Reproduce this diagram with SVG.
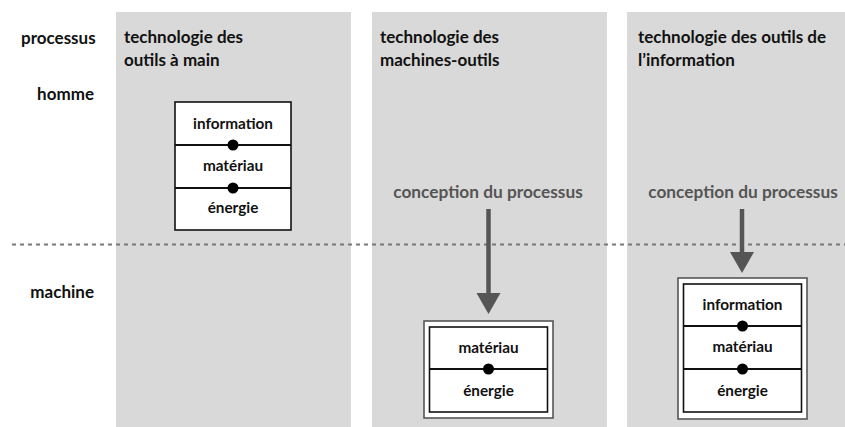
<svg xmlns="http://www.w3.org/2000/svg" width="845" height="427" viewBox="0 0 845 427">
<defs>
<style>
.panel{fill:#d9d9d9}
.t{font-family:Lato,"Open Sans","Liberation Sans",sans-serif;font-weight:bold;fill:#111}
.h{font-size:17px}
.lab{font-size:17.3px;fill:#555;text-anchor:middle}
.bt{font-size:15.3px;text-anchor:middle}
.box{fill:#fff;stroke:#111;stroke-width:1.6}
.outer{fill:#fff;stroke:#555;stroke-width:1.6}
.div{stroke:#111;stroke-width:1.8}
.dot{fill:#000}
.shaft{stroke:#555;stroke-width:4.5}
.head{fill:#555}
</style>
</defs>
<rect width="845" height="427" fill="#fff"/>
<g id="panels">
<rect class="panel" x="116" y="12" width="235" height="415"/>
<rect class="panel" x="372" y="12" width="235" height="415"/>
<rect class="panel" x="627" y="12" width="218" height="415"/>
</g>
<g id="row-labels">
<text class="t h" x="21" y="44">processus</text>
<text class="t h" x="94" y="100" text-anchor="end">homme</text>
<text class="t h" x="94" y="298" text-anchor="end">machine</text>
</g>
<g id="titles">
<text class="t h" x="124" y="43">technologie des</text>
<text class="t h" x="124" y="66">outils à main</text>
<text class="t h" x="380" y="43">technologie des</text>
<text class="t h" x="380" y="66">machines-outils</text>
<text class="t h" x="638" y="43">technologie des outils de</text>
<text class="t h" x="638" y="66">l’information</text>
</g>
<line id="divider" x1="12" y1="244.5" x2="845" y2="244.5" stroke="#777" stroke-width="2" stroke-dasharray="4 4"/>
<g id="connectors">
<line class="shaft" x1="488.5" y1="209" x2="488.5" y2="295"/>
<polygon class="head" points="476.5,293 500.5,293 488.5,314"/>
<line class="shaft" x1="742" y1="209" x2="742" y2="254"/>
<polygon class="head" points="730,252 754,252 742,273"/>
</g>
<g id="label-machines">
<text class="t lab" x="488" y="198">conception du processus</text>
</g>
<g id="label-information">
<text class="t lab" x="743" y="198">conception du processus</text>
</g>
<g id="node-outils-main">
<rect class="box" x="175" y="102" width="116" height="128"/>
<line class="div" x1="175" y1="145" x2="291" y2="145"/>
<line class="div" x1="175" y1="188" x2="291" y2="188"/>
<circle class="dot" cx="233" cy="145" r="5.5"/>
<circle class="dot" cx="233" cy="188" r="5.5"/>
<text class="t bt" x="233" y="129">information</text>
<text class="t bt" x="233" y="171">matériau</text>
<text class="t bt" x="233" y="213">énergie</text>
</g>
<g id="node-machines-outils">
<rect class="outer" x="424" y="321" width="129" height="97"/>
<rect class="box" x="429.5" y="327" width="118" height="85"/>
<line class="div" x1="429.5" y1="369" x2="547.5" y2="369"/>
<circle class="dot" cx="488.5" cy="369" r="5.5"/>
<text class="t bt" x="488.5" y="353">matériau</text>
<text class="t bt" x="488.5" y="396">énergie</text>
</g>
<g id="node-outils-information">
<rect class="outer" x="678" y="278" width="129" height="141"/>
<rect class="box" x="683.5" y="284" width="118" height="128"/>
<line class="div" x1="683.5" y1="326" x2="801.5" y2="326"/>
<line class="div" x1="683.5" y1="369" x2="801.5" y2="369"/>
<circle class="dot" cx="742.5" cy="326" r="5.5"/>
<circle class="dot" cx="742.5" cy="369" r="5.5"/>
<text class="t bt" x="742.5" y="310">information</text>
<text class="t bt" x="742.5" y="352">matériau</text>
<text class="t bt" x="742.5" y="396">énergie</text>
</g>
</svg>
